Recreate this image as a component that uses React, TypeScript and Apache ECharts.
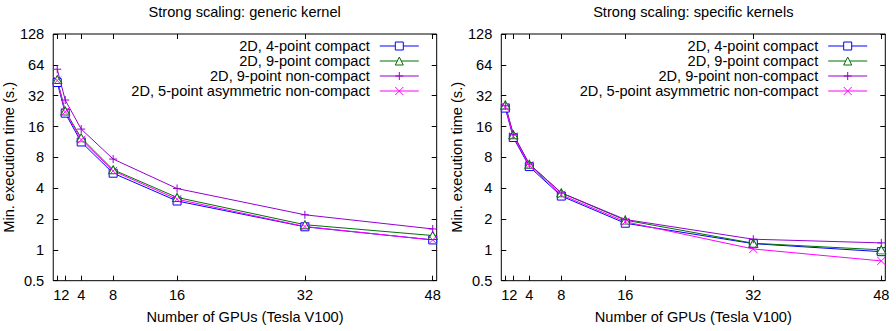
import React, { useEffect, useRef } from "react";
import * as echarts from "echarts";

const gpus = [1, 2, 4, 8, 16, 32, 48];
const xTicks = [1, 2, 4, 8, 16, 32, 48];
const titles = ["Strong scaling: generic kernel", "Strong scaling: specific kernels"];
const xName = "Number of GPUs (Tesla V100)";
const yName = "Min. execution time (s.)";
const seriesNames = [
  "2D, 4-point compact",
  "2D, 9-point compact",
  "2D, 9-point non-compact",
  "2D, 5-point asymmetric non-compact",
];

// generic kernel panel
const generic4c = [43, 21.6, 11.3, 5.6, 3.0, 1.68, 1.25];
const generic9c = [46, 22.7, 12.4, 6.05, 3.25, 1.76, 1.38];
const generic9nc = [58, 29, 15.1, 7.7, 3.97, 2.2, 1.6];
const generic5anc = [45, 22.3, 11.9, 5.9, 3.12, 1.69, 1.25];
// specific kernels panel
const specific4c = [24.2, 12.5, 6.5, 3.35, 1.82, 1.15, 0.96];
const specific9c = [26, 13.3, 6.85, 3.6, 1.95, 1.16, 1.0];
const specific9nc = [25.5, 13.4, 6.9, 3.6, 1.98, 1.27, 1.17];
const specific5anc = [24.8, 12.8, 6.7, 3.45, 1.88, 1.02, 0.78];

const colors = ["#0000ff", "#007000", "#9400d3", "#ff00ff"];
const symbols = [
  "path://M0,0H10V10H0Z",
  "path://M5,0L10,9H0Z",
  "path://M5,0V10M0,5H10",
  "path://M0,0L10,10M10,0L0,10",
];
const symbolFills = ["#fff", "#fff", null, null];

const FONT = "Liberation Sans, Arial, sans-serif";
const FS = 14.6;

export default function App() {
  const ref = useRef<HTMLDivElement>(null);
  useEffect(() => {
    if (!ref.current) return;
    const chart = echarts.init(ref.current, undefined, { renderer: "svg" });
    const panels = [
      [generic4c, generic9c, generic9nc, generic5anc],
      [specific4c, specific9c, specific9nc, specific5anc],
    ];
    const gridLefts = [52.7, 501.3];
    const gridW = 384;
    const grids = gridLefts.map((l) => ({
      left: l,
      top: 34,
      width: gridW,
      height: 246.7,
      show: true,
      borderColor: "#000",
      borderWidth: 1,
      backgroundColor: "transparent",
    }));
    const xAxes: any[] = [];
    const yAxes: any[] = [];
    [0, 1].forEach((g) => {
      xAxes.push({
        type: "value",
        gridIndex: g,
        min: 0.5,
        max: 48.5,
        position: "bottom",
        name: xName,
        nameLocation: "middle",
        nameGap: 29,
        nameTextStyle: { color: "#000", fontSize: FS, fontFamily: FONT },
        axisLine: { show: false },
        axisTick: { show: true, inside: true, length: 5, customValues: xTicks, lineStyle: { color: "#000" } },
        axisLabel: { customValues: xTicks, margin: 7, color: "#000", fontSize: FS, fontFamily: FONT },
        splitLine: { show: false },
      });
      xAxes.push({
        type: "value",
        gridIndex: g,
        min: 0.5,
        max: 48.5,
        position: "top",
        axisLine: { show: false },
        axisTick: { show: true, inside: true, length: 5, customValues: xTicks, lineStyle: { color: "#000" } },
        axisLabel: { show: false, customValues: xTicks },
        splitLine: { show: false },
      });
      yAxes.push({
        type: "log",
        logBase: 2,
        gridIndex: g,
        min: 0.5,
        max: 128,
        position: "left",
        name: yName,
        nameLocation: "middle",
        nameGap: 30,
        nameRotate: 90,
        nameTextStyle: { color: "#000", fontSize: FS, fontFamily: FONT },
        axisLine: { show: false },
        axisTick: { show: true, inside: true, length: 5, lineStyle: { color: "#000" } },
        axisLabel: {
          margin: 9,
          color: "#000",
          fontSize: FS,
          fontFamily: FONT,
          formatter: (v: number) => String(+Number(v).toPrecision(6)),
        },
        splitLine: { show: false },
        minorTick: { show: false },
      });
      yAxes.push({
        type: "log",
        logBase: 2,
        gridIndex: g,
        min: 0.5,
        max: 128,
        position: "right",
        axisLine: { show: false },
        axisTick: { show: true, inside: true, length: 5, lineStyle: { color: "#000" } },
        axisLabel: { show: false },
        splitLine: { show: false },
      });
    });
    const series: any[] = [];
    panels.forEach((sets, g) => {
      sets.forEach((vals, i) => {
        series.push({
          type: "line",
          name: seriesNames[i],
          xAxisIndex: g * 2,
          yAxisIndex: g * 2,
          data: gpus.map((x, k) => [x, vals[k]]),
          symbol: symbols[i],
          symbolSize: i === 1 ? [9, 8] : 8,
          showSymbol: true,
          lineStyle: { color: colors[i], width: 1 },
          itemStyle: {
            color: symbolFills[i] || colors[i],
            borderColor: colors[i],
            borderWidth: 1,
          },
          emphasis: { disabled: true },
        });
      });
    });
    const legendRights = [896 - 419.3, 896 - 867.7];
    const legends = legendRights.map((r) => ({
      orient: "vertical",
      align: "right",
      right: r,
      top: 38.5,
      padding: 0,
      itemWidth: 39,
      itemHeight: 10,
      itemGap: 0,
      selectedMode: false,
      data: seriesNames,
      itemStyle: { borderWidth: 1 },
      lineStyle: { width: 1 },
      textStyle: { color: "#000", fontSize: FS, fontFamily: FONT, padding: [0, 5, 0, 0] },
    }));
    chart.setOption({
      animation: false,
      backgroundColor: "#fff",
      title: titles.map((t, g) => ({
        text: t,
        left: gridLefts[g] + gridW / 2,
        textAlign: "center",
        top: 4,
        padding: 0,
        textStyle: { color: "#000", fontSize: FS, fontWeight: "normal", fontFamily: FONT },
      })),
      legend: legends,
      grid: grids,
      xAxis: xAxes,
      yAxis: yAxes,
      series,
    });
    return () => chart.dispose();
  }, []);
  return (
    <div
      ref={ref}
      style={{ position: "fixed", left: 0, top: 0, width: 896, height: 331 }}
    />
  );
}
